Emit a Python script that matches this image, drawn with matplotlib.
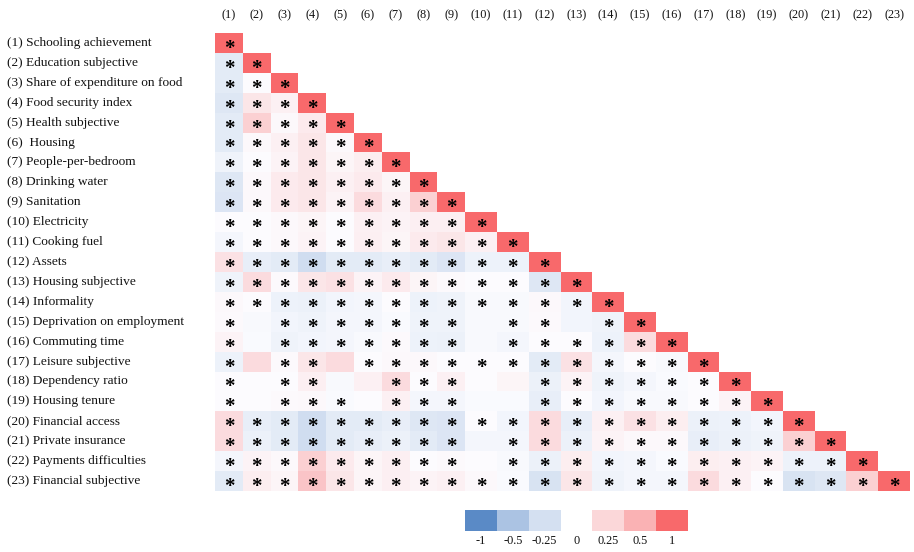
import matplotlib
matplotlib.use("Agg")
import matplotlib.pyplot as plt
import numpy as np
from matplotlib.colors import LinearSegmentedColormap
from matplotlib.transforms import blended_transform_factory

# ---- data -------------------------------------------------------------
labels = [
    "(1) Schooling achievement",
    "(2) Education subjective",
    "(3) Share of expenditure on food",
    "(4) Food security index",
    "(5) Health subjective",
    "(6)  Housing",
    "(7) People-per-bedroom",
    "(8) Drinking water",
    "(9) Sanitation",
    "(10) Electricity",
    "(11) Cooking fuel",
    "(12) Assets",
    "(13) Housing subjective",
    "(14) Informality",
    "(15) Deprivation on employment",
    "(16) Commuting time",
    "(17) Leisure subjective",
    "(18) Dependency ratio",
    "(19) Housing tenure",
    "(20) Financial access",
    "(21) Private insurance",
    "(22) Payments difficulties",
    "(23) Financial subjective",
]
col_tags = [f"({i})" for i in range(1, 24)]

# lower triangle (row i holds correlations with columns 1..i-1)
corr_lower = [
    [],
    [-0.15],
    [-0.15, 0.0],
    [-0.18, 0.15, 0.08],
    [-0.15, 0.3, 0.03, 0.12],
    [-0.15, 0.03, 0.08, 0.15, 0.03],
    [-0.08, 0.0, 0.06, 0.15, 0.05, 0.1],
    [-0.18, 0.03, 0.12, 0.15, 0.08, 0.12, 0.05],
    [-0.2, 0.03, 0.12, 0.15, 0.06, 0.22, 0.08, 0.3],
    [0.0, 0.0, 0.03, 0.05, 0.0, 0.08, 0.06, 0.09, 0.09],
    [-0.05, 0.0, 0.03, 0.06, 0.0, 0.09, 0.05, 0.12, 0.15, 0.08],
    [0.18, -0.12, -0.15, -0.27, -0.15, -0.15, -0.12, -0.15, -0.2, -0.09, -0.09],
    [-0.08, 0.22, 0.02, 0.15, 0.18, 0.06, 0.12, 0.05, 0.02, 0.0, 0.0, -0.18],
    [0.03, 0.0, -0.09, -0.1, -0.06, -0.05, 0.0, -0.09, -0.08, -0.03, -0.03, 0.03, -0.06],
    [0.02, -0.03, -0.06, -0.08, -0.05, -0.05, -0.02, -0.08, -0.08, -0.03, -0.03, 0.02, -0.06, -0.08],
    [0.06, -0.02, -0.08, -0.06, -0.05, -0.03, 0.02, -0.09, -0.1, -0.03, -0.05, 0.0, 0.0, -0.09, 0.22],
    [-0.09, 0.22, 0.02, 0.15, 0.22, 0.0, 0.03, 0.03, 0.0, 0.0, 0.0, -0.15, 0.18, -0.05, 0.0, -0.03],
    [0.0, 0.0, 0.0, 0.09, -0.03, 0.08, 0.22, 0.0, 0.08, 0.0, 0.05, -0.1, 0.06, -0.08, -0.05, -0.02, 0.0],
    [0.0, 0.0, 0.02, 0.03, -0.02, 0.0, 0.08, -0.05, -0.05, -0.02, -0.02, -0.12, 0.0, -0.06, -0.03, -0.03, 0.0, 0.06],
    [0.22, -0.12, -0.15, -0.27, -0.15, -0.15, -0.12, -0.18, -0.2, 0.0, -0.06, 0.22, -0.12, 0.08, 0.18, 0.1, -0.1, -0.09, -0.06],
    [0.22, -0.1, -0.15, -0.27, -0.15, -0.12, -0.1, -0.15, -0.2, -0.05, -0.05, 0.22, -0.1, 0.06, 0.03, 0.03, -0.12, -0.1, -0.08, 0.3],
    [-0.05, 0.06, 0.03, 0.3, 0.12, 0.05, 0.09, 0.0, 0.02, 0.0, -0.03, -0.1, 0.1, -0.06, -0.05, -0.02, 0.1, 0.08, 0.06, -0.09, -0.09],
    [-0.15, 0.1, 0.05, 0.38, 0.15, 0.05, 0.09, 0.06, 0.08, 0.03, -0.02, -0.22, 0.15, -0.08, -0.05, -0.05, 0.22, 0.08, 0.0, -0.22, -0.18, 0.3],
]

# (row, col) pairs, 1-based, that carry no significance star
not_significant = [
    (15, 2), (16, 2), (17, 2), (17, 5), (18, 2), (18, 5), (18, 6),
    (19, 2), (19, 6), (15, 10), (15, 13), (16, 10), (18, 10), (18, 11),
    (19, 10), (19, 11), (21, 10), (22, 10),
]

legend_values = [-1, -0.5, -0.25, np.nan, 0.25, 0.5, 1]
legend_labels = ["-1", "-0.5", "-0.25", "0", "0.25", "0.5", "1"]

# ---- build matrix -----------------------------------------------------
n = len(labels)
corr = np.full((n, n), np.nan)
for i, row in enumerate(corr_lower):
    corr[i, :i] = row
    corr[i, i] = 1.0
stars = ~np.isnan(corr)
for r, c in not_significant:
    stars[r - 1, c - 1] = False

# excel-like column widths: narrow for (1)-(9), wider for (10)-(23)
col_widths = np.array([7.0] * 9 + [8.0] * 14)
x_edges = np.concatenate([[0], np.cumsum(col_widths)])
x_mid = (x_edges[:-1] + x_edges[1:]) / 2
y_edges = np.arange(n + 1)

cmap = LinearSegmentedColormap.from_list("excel_bwr", ["#5A8AC6", "#FCFCFF", "#F8696B"])
serif = ["Liberation Serif", "DejaVu Serif"]

W, H = 914, 552
fig = plt.figure(figsize=(W / 100, H / 100), dpi=100)


def px_axes(x0, y0, x1, y1):
    return fig.add_axes([x0 / W, 1 - y1 / H, (x1 - x0) / W, (y1 - y0) / H])


ax = px_axes(215, 33, 910, 491)
ax.pcolormesh(x_edges, y_edges, np.ma.masked_invalid(corr), cmap=cmap, vmin=-1, vmax=1)
ax.set_xlim(x_edges[0], x_edges[-1])
ax.set_ylim(n, 0)
ax.set_axis_off()

for i in range(n):
    for j in range(n):
        if stars[i, j]:
            ax.text(x_mid[j], i + 1.05, "*", ha="center", va="baseline",
                    fontsize=15, fontweight="bold", family=serif, color="black")

# row labels at the left edge of the figure
row_tr = blended_transform_factory(fig.transFigure, ax.transData)
for i, lab in enumerate(labels):
    ax.text(7 / W, i + 0.5, lab, transform=row_tr, ha="left", va="center",
            fontsize=9.6, family=serif, color="#111111")

# column tags above
col_tr = blended_transform_factory(ax.transData, fig.transFigure)
for j, tag in enumerate(col_tags):
    ax.text(x_mid[j], 1 - 15 / H, tag, transform=col_tr, ha="center", va="center",
            fontsize=8.8, family=serif, color="#111111")

# discrete legend aligned with columns (10)-(16)
lax = px_axes(x_edges[9] * 695 / x_edges[-1] + 215, 510, x_edges[16] * 695 / x_edges[-1] + 215, 531)
lax.pcolormesh(x_edges[9:17], [0, 1], np.ma.masked_invalid([legend_values]), cmap=cmap, vmin=-1, vmax=1)
lax.set_xlim(x_edges[9], x_edges[16])
lax.set_ylim(1, 0)
lax.set_axis_off()
for k, lab in enumerate(legend_labels):
    lax.text(x_mid[9 + k], 1.5, lab, ha="center", va="center", fontsize=8.8,
             family=serif, color="#111111", clip_on=False)

fig.savefig("out.png", dpi=100)
